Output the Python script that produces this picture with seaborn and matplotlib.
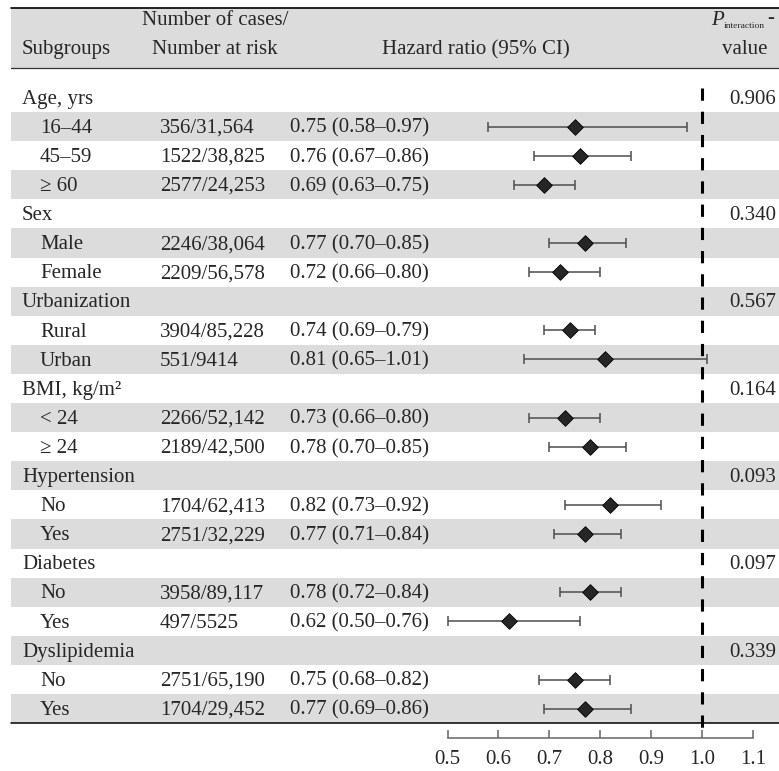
import numpy as np
import pandas as pd
import matplotlib
matplotlib.use("Agg")
import matplotlib.pyplot as plt
import matplotlib.transforms as mtransforms
import seaborn as sns

# ---------------- data ----------------
labels = ["Age, yrs", "16\u201344", "45\u201359", "\u2265 60",
          "Sex", "Male", "Female",
          "Urbanization", "Rural", "Urban",
          "BMI, kg/m\u00b2", "< 24", "\u2265 24",
          "Hypertension", "No", "Yes",
          "Diabetes", "No", "Yes",
          "Dyslipidemia", "No", "Yes"]
is_group = [True, False, False, False,
            True, False, False,
            True, False, False,
            True, False, False,
            True, False, False,
            True, False, False,
            True, False, False]
cases = ["", "356/31,564", "1522/38,825", "2577/24,253",
         "", "2246/38,064", "2209/56,578",
         "", "3904/85,228", "551/9414",
         "", "2266/52,142", "2189/42,500",
         "", "1704/62,413", "2751/32,229",
         "", "3958/89,117", "497/5525",
         "", "2751/65,190", "1704/29,452"]
hr = [np.nan, 0.75, 0.76, 0.69,
      np.nan, 0.77, 0.72,
      np.nan, 0.74, 0.81,
      np.nan, 0.73, 0.78,
      np.nan, 0.82, 0.77,
      np.nan, 0.78, 0.62,
      np.nan, 0.75, 0.77]
lo = [np.nan, 0.58, 0.67, 0.63,
      np.nan, 0.70, 0.66,
      np.nan, 0.69, 0.65,
      np.nan, 0.66, 0.70,
      np.nan, 0.73, 0.71,
      np.nan, 0.72, 0.50,
      np.nan, 0.68, 0.69]
hi = [np.nan, 0.97, 0.86, 0.75,
      np.nan, 0.85, 0.80,
      np.nan, 0.79, 1.01,
      np.nan, 0.80, 0.85,
      np.nan, 0.92, 0.84,
      np.nan, 0.84, 0.76,
      np.nan, 0.82, 0.86]
p_inter = ["0.906", "", "", "",
           "0.340", "", "",
           "0.567", "", "",
           "0.164", "", "",
           "0.093", "", "",
           "0.097", "", "",
           "0.339", "", ""]
x_ticks = [0.5, 0.6, 0.7, 0.8, 0.9, 1.0, 1.1]
x_ticklabels = ["0.5", "0.6", "0.7", "0.8", "0.9", "1.0", "1.1"]

df = pd.DataFrame({"label": labels, "group": is_group, "cases": cases,
                   "hr": hr, "lo": lo, "hi": hi, "p": p_inter})
df["row"] = np.arange(len(df))

# ---------------- style ----------------
sns.set_style("white")
plt.rcParams["font.family"] = ["Liberation Serif", "DejaVu Serif"]
plt.rcParams["mathtext.fontset"] = "stix"

W, H = 779, 771
fig = plt.figure(figsize=(W / 100, H / 100), dpi=100)
ax = fig.add_axes([0, 0, 1, 1])
ax.set_facecolor("white")

# pixel geometry -> data limits
px_05, px_11 = 447.5, 753.0
ppu = (px_11 - px_05) / 0.6
ax.set_xlim(0.5 - px_05 / ppu, 0.5 + (W - px_05) / ppu)
row0, rowh = 97.5, 29.1
def prow(py):
    return (py - row0) / rowh
ax.set_ylim(prow(H), prow(0))

FS = 15
GREY = "#dcdcdc"
left_px = 11
xl = left_px / W
dy = 0.06  # small downward nudge so glyphs sit centred in the bands

# header band and rules
ax.axhspan(prow(8), prow(68), xmin=xl, xmax=1, color=GREY, lw=0, zorder=0)
ax.axhline(prow(8), xmin=xl, xmax=1, color="black", lw=1.2, zorder=3)
ax.axhline(prow(68), xmin=xl, xmax=1, color="#333333", lw=0.9, zorder=3)
ax.axhline(21.5, xmin=xl, xmax=1, color="black", lw=1.1, zorder=3)

# alternating row shading
for r in df["row"]:
    if r % 2 == 1:
        ax.axhspan(r - 0.5, r + 0.5, xmin=xl, xmax=1, color=GREY, lw=0, zorder=0)

tr = mtransforms.blended_transform_factory(ax.transAxes, ax.transData)
def fx(px):
    return px / W

# header texts
yh1, yh2 = prow(21), prow(50)
ax.text(fx(22), yh2, "Subgroups", transform=tr, fontsize=FS, va="center", ha="left")
ax.text(fx(215), yh1, "Number of cases/", transform=tr, fontsize=FS, va="center", ha="center")
ax.text(fx(215), yh2, "Number at risk", transform=tr, fontsize=FS, va="center", ha="center")
ax.text(fx(476), yh2, "Hazard ratio (95% CI)", transform=tr, fontsize=FS, va="center", ha="center")
ax.text(fx(711), yh1, "P", transform=tr, fontsize=FS, va="center", ha="left", style="italic")
ax.text(fx(724), prow(26), "interaction", transform=tr, fontsize=6.8, va="center", ha="left")
ax.text(fx(767), yh1 - 0.1, "-", transform=tr, fontsize=FS, va="center", ha="left")
ax.text(fx(745), yh2, "value", transform=tr, fontsize=FS, va="center", ha="center")

# row texts
for _, rw in df.iterrows():
    y = rw["row"] + dy
    ax.text(fx(22 if rw["group"] else 40), y, rw["label"], transform=tr,
            fontsize=FS, va="center", ha="left")
    if rw["cases"]:
        ax.text(fx(160), y, rw["cases"], transform=tr, fontsize=FS, va="center", ha="left")
    if not np.isnan(rw["hr"]):
        s = f"{rw['hr']:.2f} ({rw['lo']:.2f}\u2013{rw['hi']:.2f})"
        ax.text(fx(290), y, s, transform=tr, fontsize=FS, va="center", ha="left")
    if rw["p"]:
        ax.text(fx(776), y, rw["p"], transform=tr, fontsize=FS, va="center", ha="right")

# reference line
ax.vlines(1.0, -0.32, 21.95, colors="black", lw=2.2, linestyles=(0, (4, 3.6)), zorder=2)

# confidence intervals
d = df.dropna(subset=["hr"])
ax.errorbar(d["hr"], d["row"], xerr=[d["hr"] - d["lo"], d["hi"] - d["hr"]],
            fmt="none", ecolor="#4d4d4d", elinewidth=1.1, capsize=3.6,
            capthick=1.1, zorder=3)
sns.scatterplot(data=d, x="hr", y="row", marker="D", s=64, color="#262626",
                edgecolor="black", linewidth=0.6, ax=ax, legend=False, zorder=4)

# axis
for sp in ["left", "right", "top"]:
    ax.spines[sp].set_visible(False)
ax.spines["bottom"].set_position(("data", prow(738)))
ax.spines["bottom"].set_bounds(0.5, 1.1)
ax.spines["bottom"].set_color("#666666")
ax.spines["bottom"].set_linewidth(1.1)
ax.set_xticks(x_ticks)
ax.set_xticklabels(x_ticklabels)
ax.tick_params(axis="x", direction="in", length=6, width=1.1, color="#666666",
               labelsize=FS, pad=9, bottom=True)
ax.set_yticks([])
ax.set_xlabel("")
ax.set_ylabel("")

fig.savefig("out.png", dpi=100)
